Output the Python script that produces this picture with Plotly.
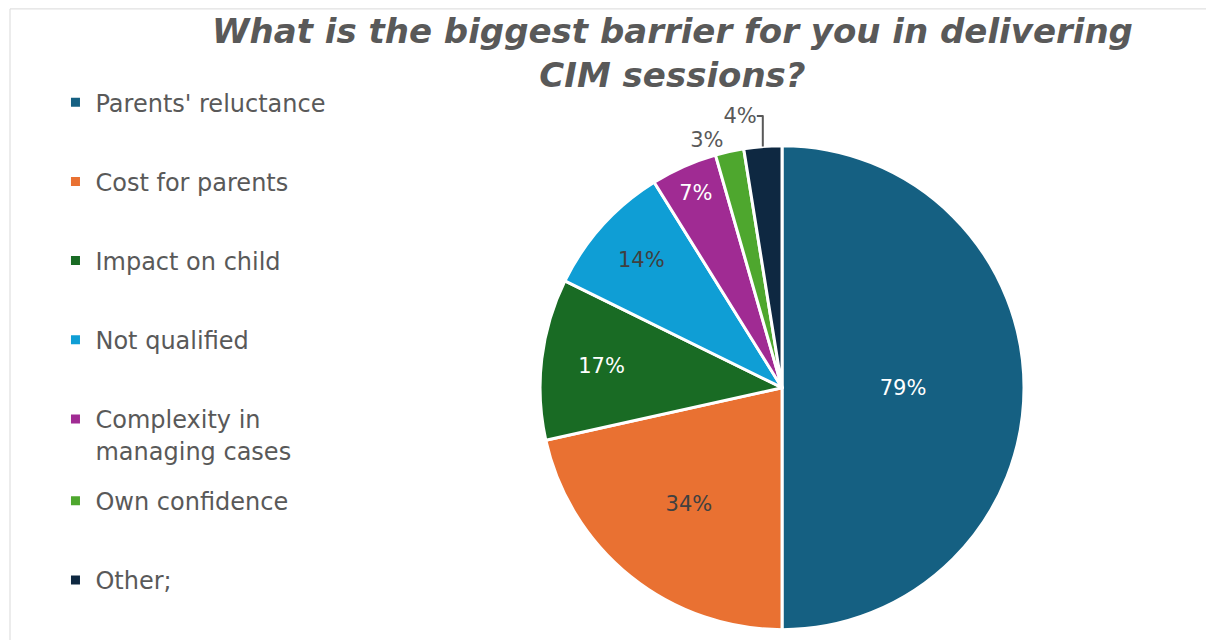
import plotly.graph_objects as go

labels = ["Parents' reluctance", "Cost for parents", "Impact on child", "Not qualified",
          "Complexity in managing cases", "Own confidence", "Other;"]
legend_labels = ["Parents' reluctance", "Cost for parents", "Impact on child", "Not qualified",
                 "Complexity in<br>managing cases", "Own confidence", "Other;"]
values = [79, 34, 17, 14, 7, 3, 4]
colors = ["#156082", "#E97132", "#196B24", "#0F9ED5", "#A02B93", "#4EA72E", "#0E2841"]
text_labels = [f"{v}%" for v in values]
inside_colors = ["white", "#404040", "white", "#404040", "white", "#404040", "#404040"]
text_pos = ["inside", "inside", "inside", "inside", "inside", "outside", "outside"]
title_text = "What is the biggest barrier for you in delivering<br>CIM sessions?"

FONT = "DejaVu Sans"
GRAY = "#595959"

fig = go.Figure()
fig.add_trace(go.Pie(
    labels=labels, values=values, text=text_labels, textinfo="text",
    textposition=text_pos, sort=False, direction="clockwise", rotation=0,
    marker=dict(colors=colors, line=dict(color="white", width=3)),
    insidetextfont=dict(color=inside_colors, family=FONT, size=21),
    outsidetextfont=dict(color=GRAY, family=FONT, size=21),
    insidetextorientation="horizontal",
    showlegend=False, domain=dict(x=[0.4478, 0.8491], y=[0.0, 0.775]),
    hoverinfo="label+value",
))

for i, (name, col) in enumerate(zip(legend_labels, colors)):
    fig.add_trace(go.Scatter(
        x=[None], y=[None], mode="markers", name=name,
        marker=dict(symbol="square", size=9, color=col),
        legendgroup=f"g{i}", legend="legend" if i < 5 else "legend2",
    ))

leg_common = dict(font=dict(family=FONT, size=24, color=GRAY), tracegroupgap=45,
                  itemwidth=30, bgcolor="rgba(0,0,0,0)", xanchor="left", yanchor="top",
                  valign="top", itemclick=False, itemdoubleclick=False)

fig.update_layout(
    width=1206, height=640,
    margin=dict(l=0, r=0, t=0, b=0),
    paper_bgcolor="white", plot_bgcolor="white",
    xaxis=dict(visible=False), yaxis=dict(visible=False),
    annotations=[dict(text=title_text, xref="paper", yref="paper",
                      x=672 / 1206, xanchor="center", y=1 - 9 / 640, yanchor="top",
                      showarrow=False, align="center",
                      font=dict(family=FONT, size=34, color=GRAY, style="italic", weight="bold"))],
    legend=dict(x=0.046, y=1 - 81 / 640, **leg_common),
    legend2=dict(x=0.046, y=1 - 484 / 640, **leg_common),
    shapes=[dict(type="rect", xref="paper", yref="paper", x0=10 / 1206, x1=1.2,
                 y0=-0.2, y1=1 - 9 / 640, line=dict(color="#D9D9D9", width=1),
                 fillcolor="rgba(0,0,0,0)", layer="below")],
)

fig.write_html("out.html")
